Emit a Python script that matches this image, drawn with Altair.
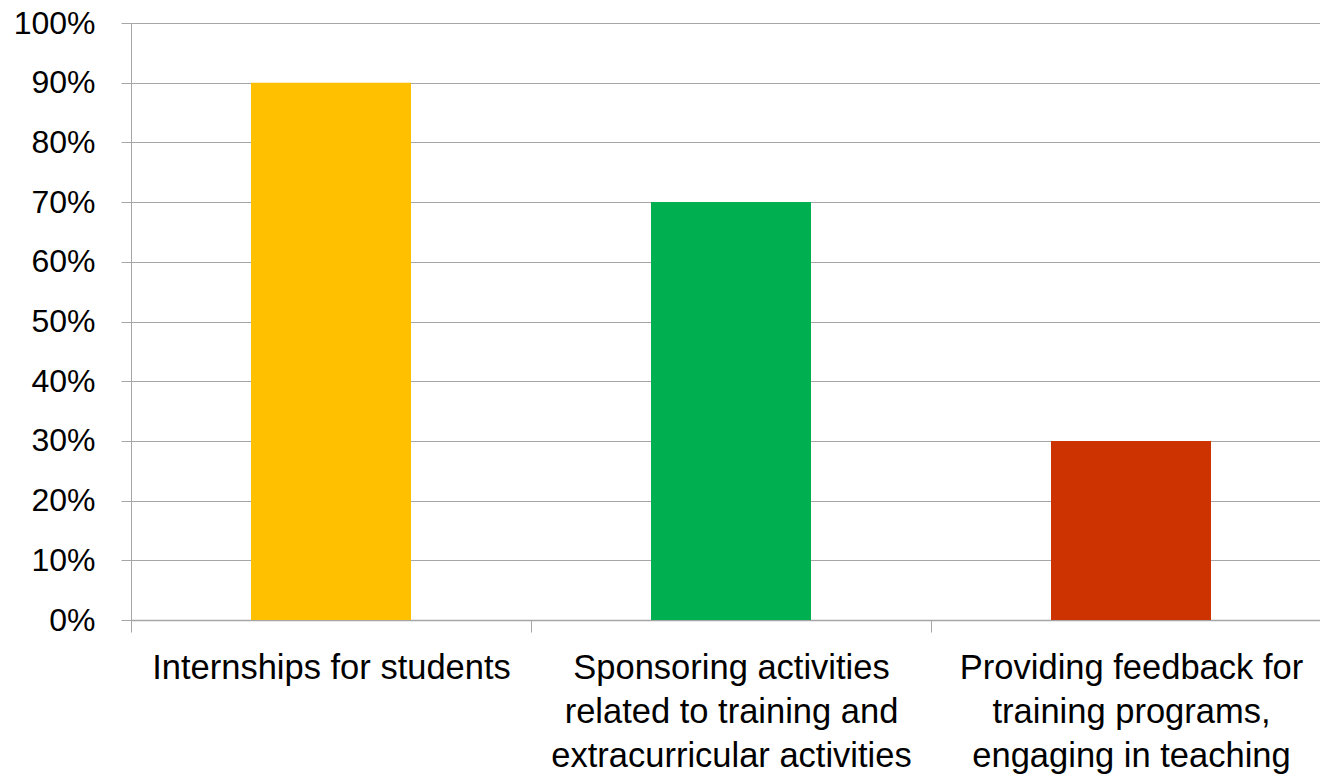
import altair as alt
import pandas as pd

categories = [
    "Internships for students",
    "Sponsoring activities\nrelated to training and\nextracurricular activities",
    "Providing feedback for\ntraining programs,\nengaging in teaching",
]
values = [0.90, 0.70, 0.30]
colors = ["#FFC000", "#00B050", "#CC3300"]
y_ticks = [0.0, 0.1, 0.2, 0.3, 0.4, 0.5, 0.6, 0.7, 0.8, 0.9, 1.0]

df = pd.DataFrame({"category": categories, "value": values, "color": colors})

FONT = "Liberation Sans"
GRID = "#a6a6a6"

bars = alt.Chart(df).mark_bar(width=alt.RelativeBandSize(0.4)).encode(
    x=alt.X(
        "category:N",
        sort=categories,
        scale=alt.Scale(range=[0, 1200], paddingInner=0, paddingOuter=0),
        axis=alt.Axis(
            title=None,
            labelExpr="split(datum.label, '\\n')",
            labelAngle=0,
            labelFont=FONT,
            labelFontSize=34.5,
            labelColor="black",
            labelLineHeight=44,
            labelPadding=19,
            labelBaseline="top",
            labelLimit=400,
            tickBand="extent",
            tickSize=12,
            tickColor=GRID,
            domainColor=GRID,
            domainWidth=1.3,
            grid=False,
        ),
    ),
    y=alt.Y(
        "value:Q",
        scale=alt.Scale(domain=[0, 1]),
        axis=alt.Axis(
            title=None,
            values=y_ticks,
            format=".0%",
            labelFont=FONT,
            labelFontSize=32,
            labelColor="black",
            labelPadding=26,
            tickSize=10,
            tickColor=GRID,
            domainColor=GRID,
            gridColor=GRID,
            gridWidth=1,
        ),
    ),
    color=alt.Color("color:N", scale=None, legend=None),
)

chart = bars.properties(
    width=1189,
    height=597,
    autosize=alt.AutoSizeParams(type="none"),
    padding={"left": 131, "top": 23, "right": 0, "bottom": 158},
).configure_view(stroke=None).configure(background="white")

chart.save("out.html", embed_options={"renderer": "svg", "actions": False})
